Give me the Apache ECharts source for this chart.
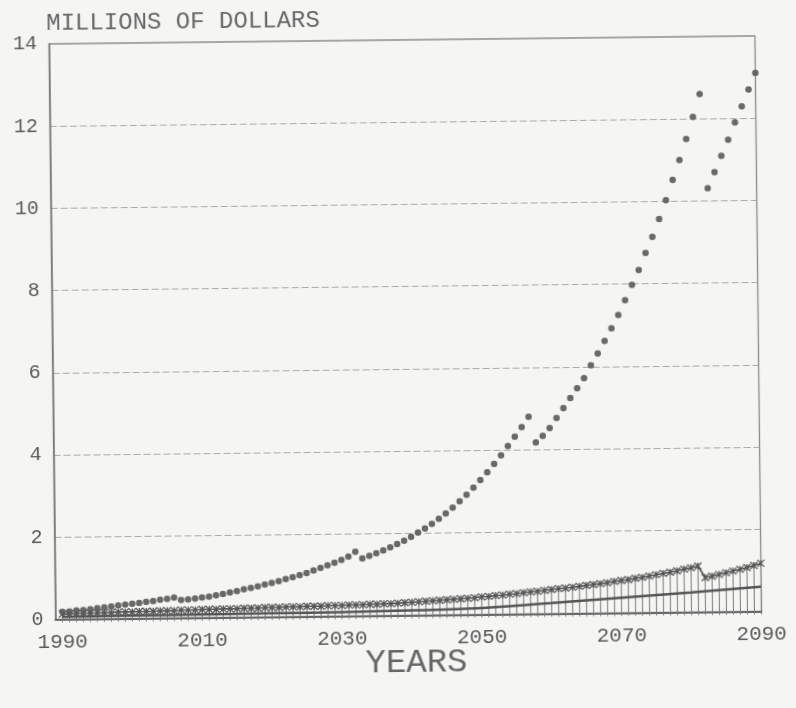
<!DOCTYPE html>
<html>
<head>
<meta charset="utf-8">
<script src="https://cdn.jsdelivr.net/npm/echarts@6/dist/echarts.min.js"></script>
<style>
html,body{margin:0;padding:0;background:#f5f5f3;overflow:hidden;}
#c{width:796px;height:708px;transform:rotate(-0.65deg);transform-origin:50% 50%;}
</style>
</head>
<body>
<div id="c"></div>
<script>
// ---- data ----
const firstYear = 1990;
const lastYear = 2090;
const xTickLabels = [1990, 2010, 2030, 2050, 2070, 2090];
const yTicks = [0, 2, 4, 6, 8, 10, 12, 14];

// main cost curve (dotted), one value per year 1990..2090, millions of dollars
const mainCost = [
  0.18,0.19,0.21,0.22,0.24,0.26,0.28,0.30,0.32,0.34,
  0.36,0.38,0.40,0.42,0.45,0.47,0.50,0.44,0.45,0.47,
  0.49,0.51,0.54,0.57,0.61,0.64,0.68,0.71,0.75,0.79,
  0.83,0.87,0.92,0.96,1.01,1.06,1.12,1.18,1.24,1.30,
  1.37,1.45,1.56,1.40,1.46,1.52,1.59,1.66,1.74,1.82,
  1.91,2.01,2.11,2.22,2.34,2.47,2.61,2.76,2.92,3.09,
  3.27,3.46,3.66,3.87,4.09,4.32,4.55,4.80,4.17,4.33,
  4.52,4.76,5.00,5.24,5.48,5.72,6.03,6.32,6.62,6.93,
  7.25,7.61,7.98,8.34,8.75,9.14,9.57,10.03,10.52,11.00,
  11.51,12.05,12.60,10.31,10.70,11.09,11.48,11.90,12.29,12.70,13.10
];

// upper low series (crossed marks with vertical hatching), one value per year
const upperLow = [
  0.13,0.13,0.14,0.14,0.14,0.15,0.15,0.15,0.16,0.16,
  0.16,0.17,0.17,0.17,0.18,0.18,0.18,0.19,0.19,0.19,
  0.20,0.20,0.20,0.21,0.21,0.21,0.22,0.22,0.22,0.23,
  0.23,0.23,0.24,0.24,0.24,0.25,0.25,0.25,0.26,0.26,
  0.26,0.27,0.27,0.27,0.28,0.28,0.29,0.29,0.30,0.31,
  0.32,0.33,0.34,0.35,0.36,0.37,0.38,0.39,0.40,0.41,
  0.43,0.44,0.46,0.47,0.49,0.50,0.52,0.54,0.55,0.57,
  0.59,0.61,0.62,0.64,0.66,0.68,0.70,0.72,0.74,0.77,
  0.79,0.81,0.84,0.86,0.89,0.92,0.95,0.98,1.01,1.05,
  1.08,1.12,0.84,0.87,0.91,0.95,0.99,1.03,1.07,1.12,1.17
];

// smooth lowest line, sampled every ten years
const lowerYears = [1990, 2000, 2010, 2020, 2030, 2040, 2050, 2060, 2070, 2080, 2090];
const lowerLine  = [0.06, 0.07, 0.08, 0.09, 0.10, 0.12, 0.16, 0.26, 0.37, 0.48, 0.60];

// ---- build ----
const years = [];
for (let y = firstYear; y <= lastYear; y++) years.push(y);
const mainData = years.map((y, i) => [y, mainCost[i]]);
const upperData = years.map((y, i) => [y, upperLow[i]]);
const lowerData = lowerYears.map((y, i) => [y, lowerLine[i]]);

const FONT = '"Liberation Mono", "DejaVu Sans Mono", monospace';
const INK = '#5a5a5a';

const chart = echarts.init(document.getElementById('c'), null, {renderer: 'canvas'});
chart.setOption({
  animation: false,
  backgroundColor: '#f5f5f3',
  grid: {
    left: 52.5, right: 37.5, top: 40, bottom: 92.5,
    show: true, borderColor: '#8a8a8a', borderWidth: 1.3
  },
  graphic: [
    {type: 'text', left: 50, top: 8,
     style: {text: 'MILLIONS OF DOLLARS', fontFamily: FONT, fontSize: 24, fill: '#666'}},
    {type: 'text', left: 362, top: 646,
     style: {text: 'YEARS', fontFamily: FONT, fontSize: 34, fill: '#666'}}
  ],
  xAxis: {
    type: 'value', min: 1989, max: lastYear,
    axisLine: {show: true, onZero: false, lineStyle: {color: '#666', width: 2}},
    axisTick: {show: false},
    splitLine: {show: false},
    axisLabel: {
      customValues: xTickLabels,
      formatter: function (v) { return String(v); },
      color: INK, fontFamily: FONT, fontSize: 21, margin: 12
    }
  },
  yAxis: {
    type: 'value', min: 0, max: 14, interval: 2,
    axisLine: {show: true, lineStyle: {color: '#777', width: 1.5}},
    axisTick: {show: false},
    axisLabel: {color: INK, fontFamily: FONT, fontSize: 20, margin: 12},
    splitLine: {show: true, lineStyle: {color: '#a9a9a9', width: 1, type: [7, 3]}}
  },
  series: [
    {
      name: 'hatch', type: 'custom', data: upperData, z: 2,
      renderItem: function (params, api) {
        const p1 = api.coord([api.value(0), 0]);
        const p2 = api.coord([api.value(0), api.value(1)]);
        return {type: 'line',
          shape: {x1: p1[0], y1: p1[1] + 3, x2: p2[0], y2: p2[1]},
          style: {stroke: '#7a7a7a', lineWidth: 1}};
      }
    },
    {
      name: 'lower', type: 'line', data: lowerData, smooth: true, z: 3,
      symbol: 'none', lineStyle: {color: '#555', width: 2.5}
    },
    {
      name: 'upper', type: 'line', data: upperData, z: 4,
      symbol: 'path://M0,0L10,10M10,0L0,10M5,0L5,10', symbolSize: 7,
      itemStyle: {color: 'none', borderColor: '#555', borderWidth: 1.2},
      lineStyle: {color: '#555', width: 1.6}
    },
    {
      name: 'cost', type: 'scatter', data: mainData, z: 5,
      symbol: 'circle', symbolSize: 6.5,
      itemStyle: {color: '#5c5c5c', opacity: 0.92}
    }
  ]
});
</script>
</body>
</html>
